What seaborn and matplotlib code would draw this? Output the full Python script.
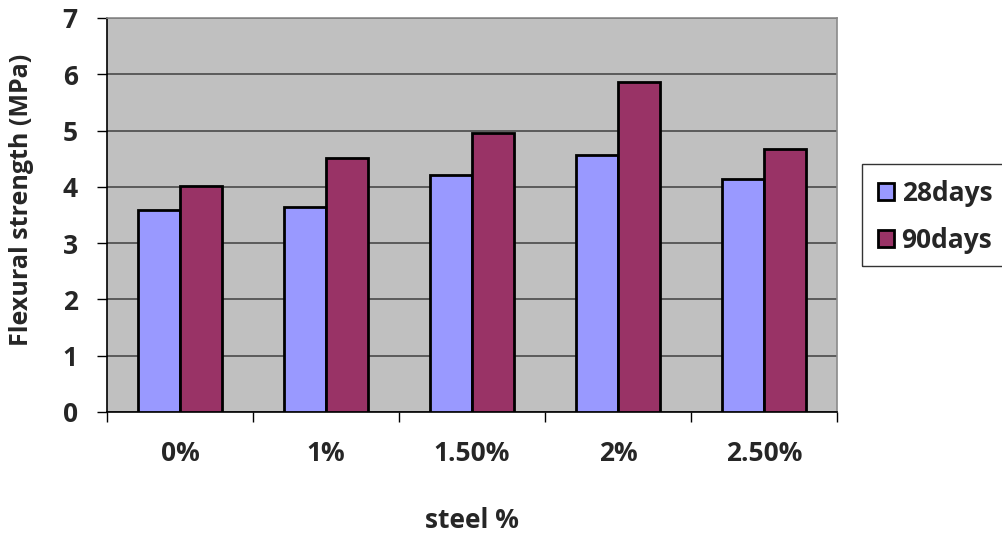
import matplotlib
matplotlib.use("Agg")
import matplotlib.pyplot as plt
import seaborn as sns
import pandas as pd
from matplotlib.patches import Patch, Rectangle
from matplotlib.ticker import FixedLocator

# Flexural strength by steel fibre content, two curing ages
steel = ["0%", "1%", "1.50%", "2%", "2.50%"]
days28 = [3.59, 3.65, 4.21, 4.56, 4.14]
days90 = [4.02, 4.52, 4.96, 5.86, 4.67]
ages = ["28days", "90days"]
colors = ["#9999FF", "#993366"]

df = pd.DataFrame({
    "steel": steel * 2,
    "strength": days28 + days90,
    "age": [ages[0]] * len(steel) + [ages[1]] * len(steel),
})

sns.set_theme(style="white")
plt.rcParams["font.family"] = ["Open Sans", "DejaVu Sans"]
plt.rcParams["font.weight"] = "bold"

FS = 19

fig = plt.figure(figsize=(10.03, 5.35), dpi=100)
ax = fig.add_axes([107 / 1003, 1 - 412 / 535, 730 / 1003, 394 / 535])
ax.set_facecolor("#C0C0C0")

sns.barplot(data=df, x="steel", y="strength", hue="age", palette=colors,
            saturation=1, width=0.575, edgecolor="black", linewidth=2,
            legend=False, ax=ax, zorder=3)

ax.set_ylim(0, 7)
ax.set_xlim(-0.5, len(steel) - 0.5)
ax.set_yticks(range(0, 8))
ax.set_axisbelow(True)
ax.yaxis.grid(True, color="#4a4a4a", linewidth=1.2)
ax.xaxis.grid(False)

# tick marks sit between categories, labels under each category
ax.xaxis.set_minor_locator(FixedLocator([i - 0.5 for i in range(len(steel) + 1)]))
ax.tick_params(axis="x", which="major", length=0, pad=20, labelsize=FS)
ax.tick_params(axis="x", which="minor", length=7, width=1, color="black", direction="out", bottom=True)
ax.tick_params(axis="y", which="major", length=7, width=1, color="black", direction="out", left=True,
               pad=14, labelsize=FS)
for lab in ax.get_xticklabels() + ax.get_yticklabels():
    lab.set_fontweight("bold")

ax.set_xlabel("steel %", fontsize=FS, fontweight="bold", va="center")
ax.xaxis.set_label_coords(0.5, (412 - 520) / 394)
ax.set_ylabel("Flexural strength (MPa)", fontsize=18, fontweight="bold", va="center")
ax.yaxis.set_label_coords((22 - 107) / 730, (412 - 200) / 394)

for side in ["left", "bottom"]:
    ax.spines[side].set_color("black")
    ax.spines[side].set_linewidth(1.2)
for side in ["top", "right"]:
    ax.spines[side].set_color("#8a8a8a")
    ax.spines[side].set_linewidth(1.2)

# legend entries, with a box that runs off the right edge of the figure
handles = [Patch(facecolor=c, edgecolor="black", linewidth=2, label=a) for c, a in zip(colors, ages)]
leg = fig.legend(handles=handles, loc="upper left", bbox_to_anchor=(862 / 1003, 1 - 164 / 535),
                 frameon=False, fontsize=FS, handlelength=0.6, handleheight=0.6,
                 handletextpad=0.3, labelspacing=0.75, borderpad=0.6, borderaxespad=0)
for t in leg.get_texts():
    t.set_fontweight("bold")
fig.patches.append(Rectangle((862 / 1003, 1 - 266 / 535), 160 / 1003, 102 / 535,
                             transform=fig.transFigure, fill=False, edgecolor="#333333",
                             linewidth=1, clip_on=False))

fig.savefig("out.png", dpi=100)
